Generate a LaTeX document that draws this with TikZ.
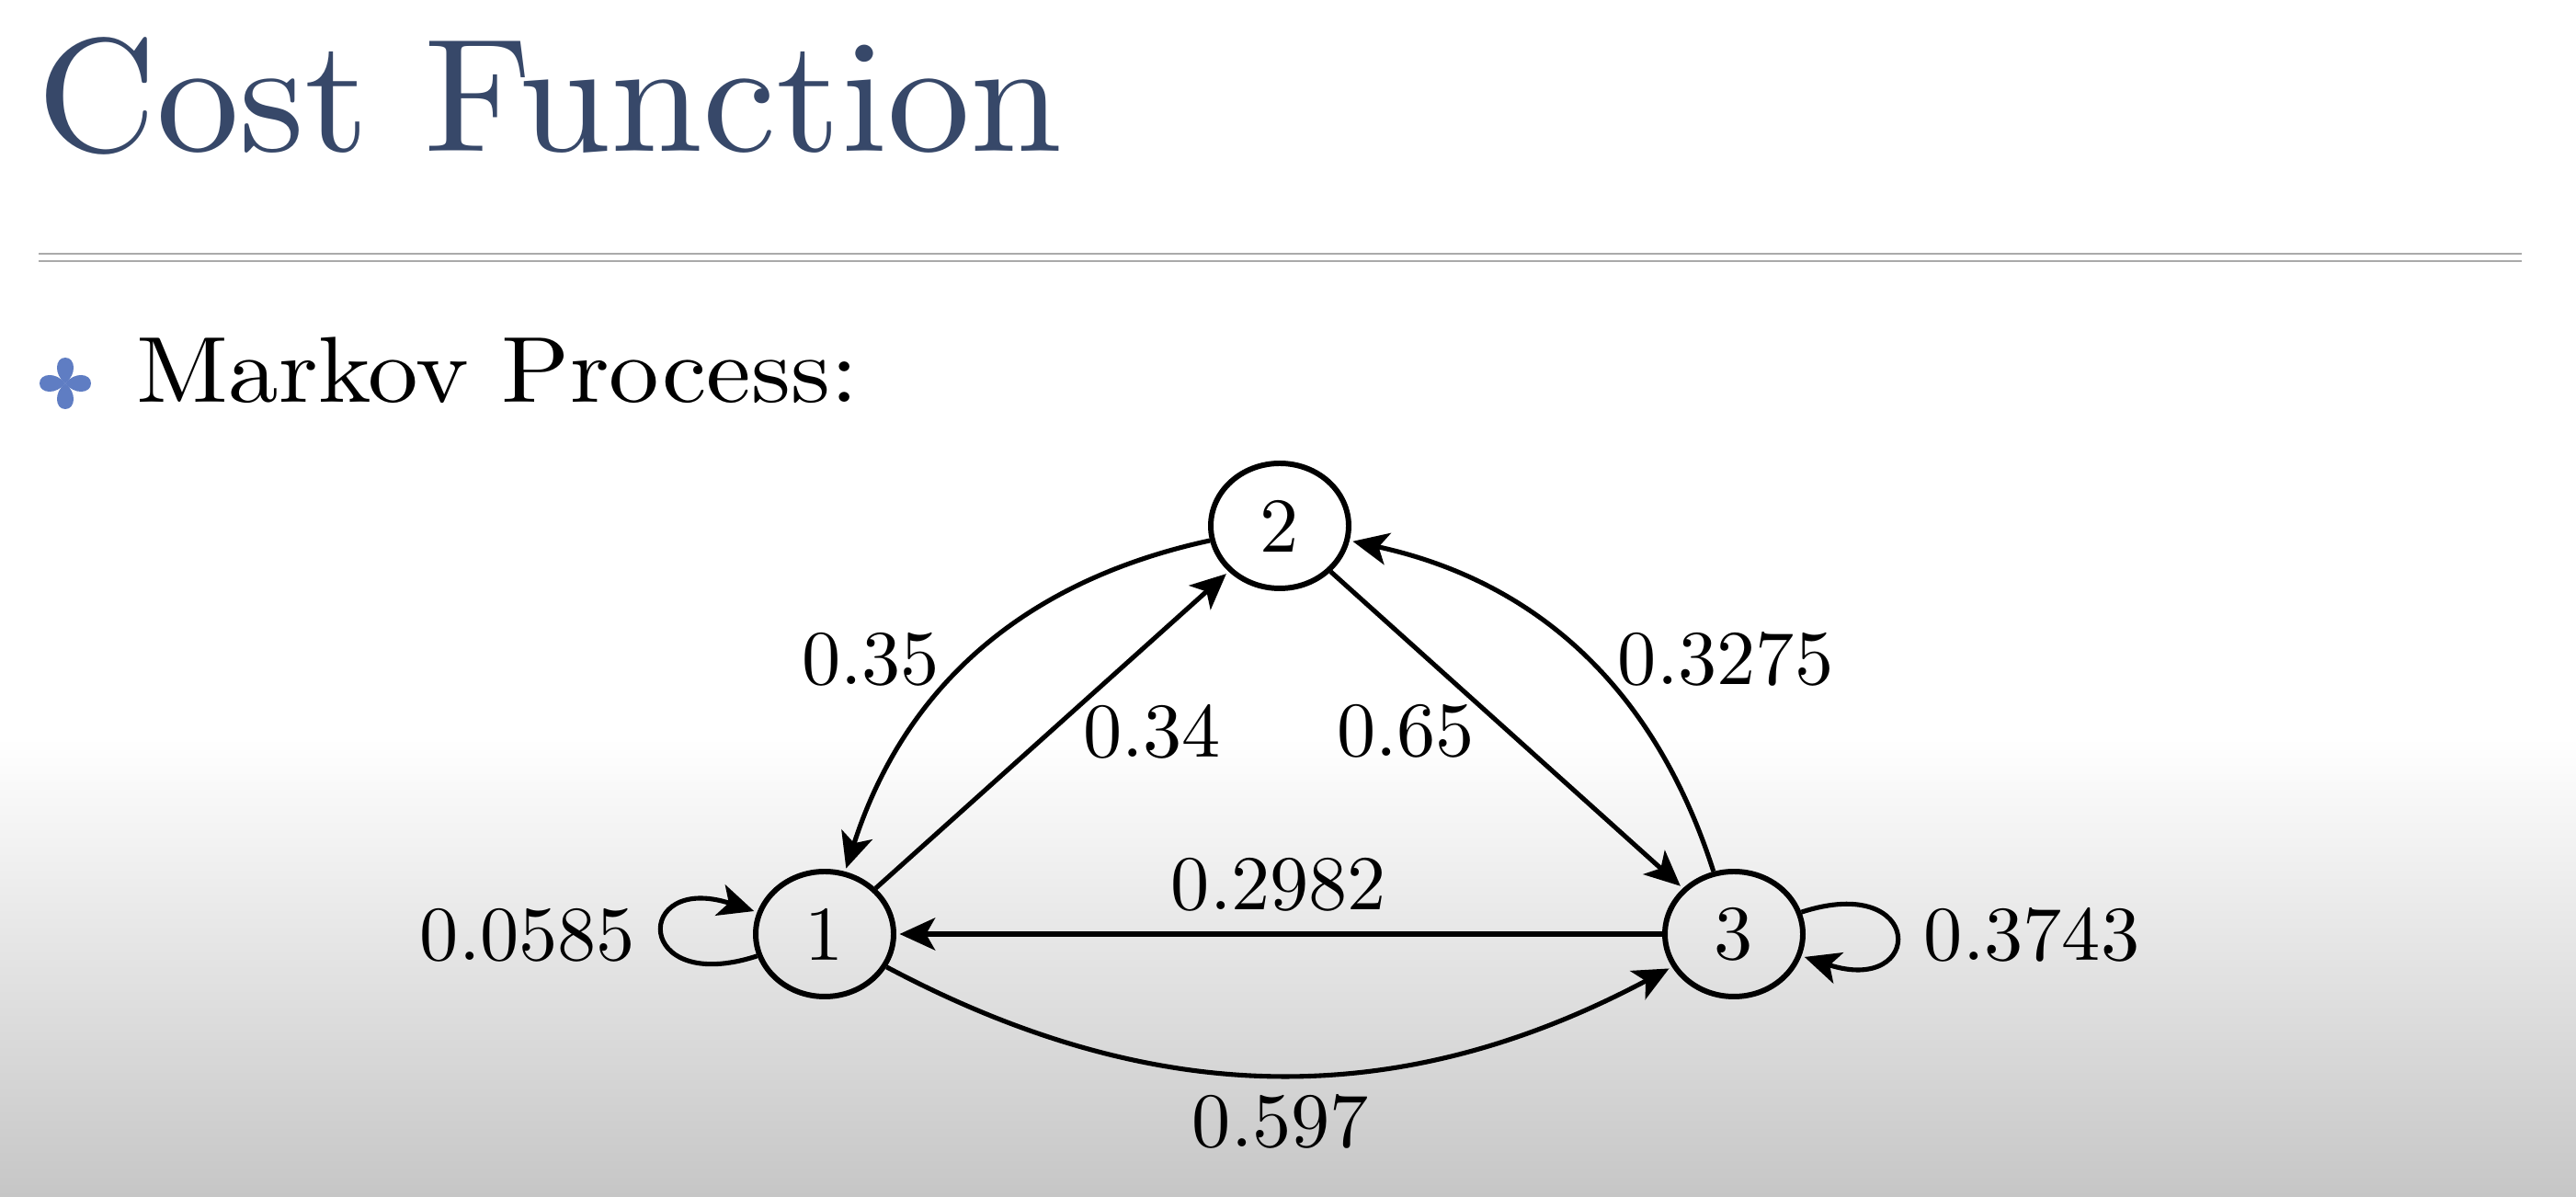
\documentclass[tikz,border=0pt]{standalone}
\usepackage{fontspec}
\newfontfamily\lmten{lmroman10-regular}[Extension=.otf]
\usetikzlibrary{arrows.meta,shapes.geometric}
\definecolor{titleblue}{RGB}{55,72,105}
\definecolor{bulletblue}{RGB}{95,125,195}
\definecolor{rulegray}{RGB}{170,170,170}
\definecolor{bggray}{RGB}{198,198,198}
\begin{document}
\begin{tikzpicture}[
  state/.style={ellipse, draw, line width=1.7pt, minimum width=1.50cm, minimum height=1.36cm, inner sep=0pt, font=\lmten\fontsize{24}{28}\selectfont},
  prob/.style={font=\lmten\fontsize{24}{28}\selectfont, inner sep=0pt},
  trans/.style={line width=1.45pt, -{Stealth[length=11pt,width=10pt,inset=2.8pt]}, shorten >=1pt},
  rulestyle/.style={rulegray, line width=0.6pt}
]
\useasboundingbox (0,0) rectangle (28.02,13.02);
\fill[white] (0,0) rectangle (28.02,13.02);
\shade[top color=white, bottom color=bggray] (0,0) rectangle (28.02,5.0);

% title and rule
\node[anchor=base west, inner sep=0pt, text=titleblue, font=\lmten\fontsize{50}{58}\selectfont, xscale=1.025, transform shape] (title) at (0.40,11.37) {Cost Function};
\draw[rulestyle] (0.42,10.26) -- (27.43,10.26);
\draw[rulestyle] (0.42,10.18) -- (27.43,10.18);

% bullet
\begin{scope}[shift={(0.71,8.85)}]
  \foreach \a in {0,90,180,270}
    \fill[bulletblue, rotate=\a] (0,0) .. controls (0.13,0.10) and (0.11,0.28) .. (0,0.28) .. controls (-0.11,0.28) and (-0.13,0.10) .. (0,0) -- cycle;
\end{scope}
\node[anchor=base west, inner sep=0pt, font=\lmten\fontsize{29}{34}\selectfont, xscale=1.07, transform shape] (markov) at (1.48,8.64) {Markov Process:};

% states
\node[state] (n1) at (8.97,2.86) {1};
\node[state] (n2) at (13.92,7.30) {2};
\node[state] (n3) at (18.86,2.86) {3};

% transitions
\draw[trans] (n1) -- (n2);
\draw[trans] (n2) -- (n3);
\draw[trans] (n3) -- (n1);
\draw[trans] (n2) to[bend right=30] (n1);
\draw[trans] (n3) to[bend right=30] (n2);
\draw[trans] (n1) to[bend right=28] (n3);
\draw[trans] (n1.198) .. controls +(198:1.42) and +(162:1.42) .. (n1.162);
\draw[trans] (n3.18) .. controls +(18:1.42) and +(-18:1.42) .. (n3.-18);

% probabilities
\node[prob] (l21) at (9.47,5.85) {0.35};
\node[prob] (l12) at (12.53,5.06) {0.34};
\node[prob] (l23) at (15.29,5.07) {0.65};
\node[prob] (l32) at (18.77,5.85) {0.3275};
\node[prob] (l31) at (13.91,3.40) {0.2982};
\node[prob] (l13) at (13.93,0.82) {0.597};
\node[prob] (l11) at (5.74,2.85) {0.0585};
\node[prob] (l33) at (22.10,2.85) {0.3743};
\end{tikzpicture}
\end{document}
